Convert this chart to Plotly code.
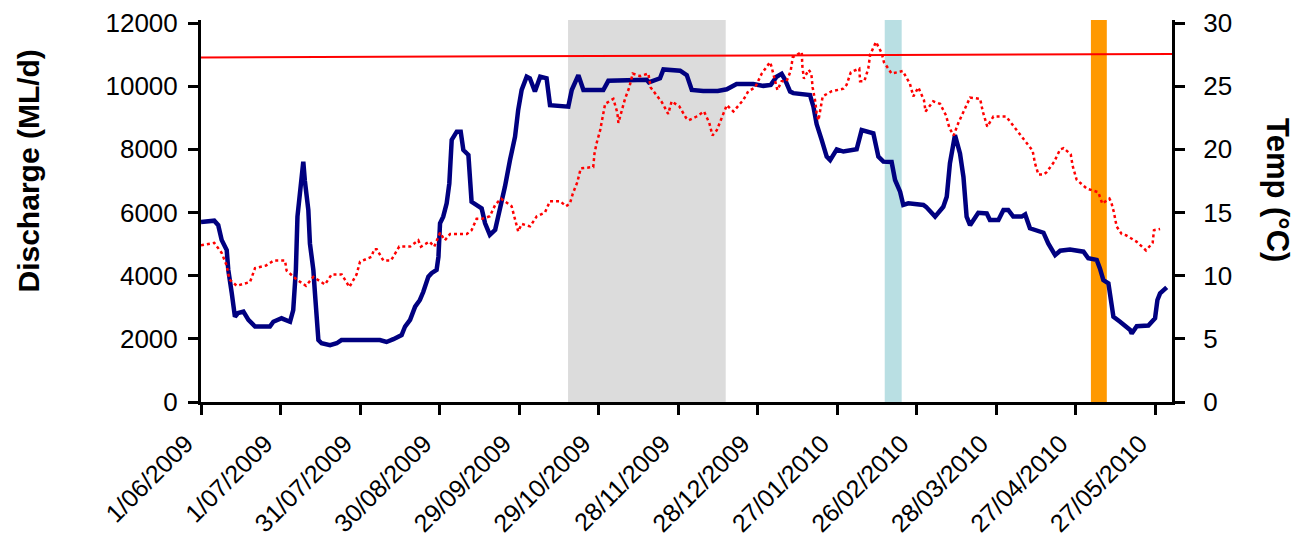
import pandas as pd
import plotly.graph_objects as go

# ---------------- data ----------------
base_date = "2009-06-01"

discharge_day = [0, 5, 6.5, 7.8, 9.7, 10.3, 11.6, 12.8, 14, 16, 17.9, 20.4, 26, 27.3, 30.4, 33.6, 34.8,
                 35.8, 36.4, 37.4, 38.6, 39.2, 40.5, 41.1, 42.4, 43, 43.7, 44.3, 45.5, 48.7, 51.2, 53,
                 67.5, 70, 72.6, 75.7, 77, 78.9, 80.8, 82.6, 83.9, 85.8, 87, 88.9, 89.6, 90.2, 91.4,
                 92.7, 93.7, 94.6, 96.5, 98, 99, 100.9, 102.1, 104, 105.9, 107.2, 109, 111, 112.8,
                 114.7, 116.6, 118.5, 119.7, 121, 122.9, 124.1, 126, 128, 130.4, 131.7, 138.6, 139.9,
                 142.4, 144.3, 151.8, 153.7, 168.2, 169, 173.2, 174.5, 180.8, 183.3, 185.2, 189.5, 195,
                 198.4, 202.1, 208.4, 212.2, 215, 217.2, 219.1, 220.4, 222.3, 223.5, 229.8, 231.1,
                 232.3, 234.2, 236.1, 237.4, 239.9, 242.4, 247.4, 249.3, 253.7, 255.6, 257.5, 260.6,
                 261.9, 263.8, 265, 266.9, 272.6, 273.6, 277, 280.1, 281.4, 282.6, 284.5, 286.4, 287.7,
                 288.9, 290.2, 293.3, 296.5, 297.7, 300.9, 302.8, 304.6, 306.5, 309.7, 311, 312.8,
                 317.9, 319.7, 322.3, 324.2, 327.9, 333, 334.8, 338, 339.2, 340.5, 342.4, 343.3, 344.3,
                 346.8, 350.6, 351.2, 353.1, 357.5, 360, 360.9, 361.9, 364.4]
discharge_mld = [5700, 5740, 5600, 5130, 4810, 4180, 3450, 2700, 2820, 2860, 2600, 2390, 2390, 2540, 2650,
                 2540, 2910, 4180, 5870, 6610, 7610, 7000, 6080, 5020, 4180, 3450, 2600, 1960, 1860, 1800,
                 1860, 1960, 1960, 1900, 1990, 2120, 2390, 2600, 3020, 3230, 3490, 3970, 4080, 4180, 4600,
                 5660, 5870, 6290, 6920, 8300, 8560, 8560, 7980, 7820, 6340, 6240, 6130, 5660, 5290, 5450,
                 6080, 6820, 7660, 8400, 9250, 9880, 10300, 10250, 9830, 10300, 10250, 9400, 9350, 9880,
                 10350, 9880, 9880, 10170, 10200, 10120, 10250, 10530, 10490, 10350, 9880, 9850, 9850,
                 9900, 10070, 10070, 10010, 10040, 10300, 10390, 10200, 9830, 9780, 9720, 9350, 8800,
                 8300, 7770, 7660, 8000, 7930, 8000, 8610, 8510, 7770, 7610, 7600, 7030, 6660, 6240, 6290,
                 6240, 6180, 5870, 6180, 6500, 7560, 8450, 7870, 7130, 5870, 5600, 5990, 5970, 5760, 5760,
                 6080, 6080, 5870, 5870, 5940, 5500, 5360, 5020, 4650, 4790, 4830, 4760, 4550, 4500, 4230,
                 3860, 3760, 3130, 2700, 2540, 2280, 2170, 2400, 2420, 2650, 3230, 3440, 3630]

temp_day = [0, 5, 7.8, 9.7, 10.7, 13.5, 18.5, 20.4, 24.5, 27.5, 31.7, 32.3, 36.1, 39.6, 42.4, 46.8, 49.3,
            53.1, 56, 58.7, 60, 64.4, 65.3, 66.3, 68.8, 71.7, 74.8, 78.9, 82, 83, 86.2, 88, 90.2, 92, 94,
            100.3, 102.1, 104, 106, 109, 111, 113.2, 117.2, 118.5, 119.7, 121, 124.2, 126.7, 129.8, 131.7,
            135.5, 137.7, 139.2, 140.3, 142, 143.3, 148, 148.5, 149.3, 150.6, 151.5, 152.5, 155.6, 157.1,
            157.5, 158.5, 160, 161.6, 162.9, 165.7, 168.8, 169.7, 173.5, 174, 176.3, 177.6, 180.5, 183,
            184, 187, 189.8, 191.8, 193, 194.6, 196.5, 198.4, 200.9, 204.6, 206.5, 209.1, 211.6, 214.7,
            215.2, 217.5, 219.1, 221, 222.5, 223.3, 226.7, 226.9, 227.5, 229.3, 230.3, 230.8, 231.7,
            232.3, 233, 233.8, 234.6, 238, 242.4, 243.6, 245.2, 248.4, 248.7, 250.3, 251.8, 252.5, 254.7,
            256.9, 257.7, 260.6, 264.8, 267.5, 268.8, 270.7, 272.8, 273.4, 276.3, 278.9, 281.1, 282.4,
            284, 285.8, 288, 290.2, 294, 295, 296.7, 299, 303.8, 307.2, 310.1, 313.8, 314.7, 316, 318,
            319.1, 321.9, 324.2, 325.5, 328.2, 328.9, 330.4, 334.2, 338.6, 340.1, 342.8, 343.5, 344.5,
            345.5, 347.4, 349, 352.5, 353, 356.6, 359.1, 359.6, 361.9]
temp_c = [12.4, 12.6, 11.8, 10.8, 9.7, 9.2, 9.5, 10.6, 10.8, 11.2, 11.2, 10.4, 9.7, 9.2, 9.9, 9.3, 10.1,
          10.1, 9.1, 10.1, 11.1, 11.5, 12.1, 12.1, 11.2, 11.2, 12.3, 12.3, 12.8, 12.3, 12.7, 12.3, 13.4,
          12.8, 13.3, 13.3, 13.6, 14.5, 14.5, 14.7, 15.6, 16.1, 15.5, 14.4, 13.5, 14.1, 13.9, 14.7, 15.0,
          15.9, 15.9, 15.5, 15.7, 16.5, 17.4, 18.5, 18.6, 19.7, 20.5, 21.5, 22.6, 23.6, 24.0, 22.9, 22.1,
          22.9, 24.0, 24.9, 26.0, 25.8, 26.0, 24.9, 23.8, 23.7, 22.8, 23.8, 23.4, 22.5, 22.3, 22.6, 23.0,
          22.1, 21.1, 21.5, 22.5, 23.5, 23.0, 23.9, 24.6, 24.9, 26.0, 26.9, 26.6, 24.7, 25.4, 25.4, 26.2,
          27.3, 27.7, 26.6, 25.6, 26.3, 26.0, 24.9, 23.9, 22.9, 22.3, 23.2, 24.2, 24.6, 24.8, 25.1, 26.1,
          26.4, 25.4, 25.4, 26.4, 27.5, 28.5, 27.6, 26.9, 26.0, 26.2, 25.2, 24.2, 24.9, 23.9, 23.0, 23.8,
          23.6, 22.7, 21.7, 21.1, 22.1, 23.1, 24.1, 24.0, 23.0, 21.8, 22.6, 22.6, 21.7, 20.9, 19.9, 18.9,
          18.0, 18.0, 18.2, 19.0, 20.0, 20.1, 19.6, 18.7, 17.6, 16.9, 16.6, 15.7, 16.1, 15.8, 15.0, 13.9,
          13.3, 13.2, 12.8, 12.7, 12.0, 12.6, 13.6, 13.7]

# reference temperature line (start / end)
ref_line_day = [-1, 367]
ref_line_temp = [27.28, 27.55]

# shaded periods (start day, end day)
grey_period = [138.5, 198.0]
blue_period = [258.0, 264.4]
orange_period = [335.8, 341.8]

tick_dates = ["2009-06-01", "2009-07-01", "2009-07-31", "2009-08-30", "2009-09-29", "2009-10-29",
              "2009-11-28", "2009-12-28", "2010-01-27", "2010-02-26", "2010-03-28", "2010-04-27",
              "2010-05-27"]
tick_labels = ["1/06/2009", "1/07/2009", "31/07/2009", "30/08/2009", "29/09/2009", "29/10/2009",
               "28/11/2009", "28/12/2009", "27/01/2010", "26/02/2010", "28/03/2010", "27/04/2010",
               "27/05/2010"]
discharge_ticks = [0, 2000, 4000, 6000, 8000, 10000, 12000]
discharge_tick_labels = ["0", "2000", "4000", "6000", "8000", "10000", "12000"]
temp_ticks = [0, 5, 10, 15, 20, 25, 30]
temp_tick_labels = ["0", "5", "10", "15", "20", "25", "30"]

# ---------------- helpers ----------------
b = pd.Timestamp(base_date)
to_date = lambda days: [b + pd.Timedelta(days=float(d)) for d in days]

x_range = [b, b + pd.Timedelta(days=366.4)]
y_range = [0, 12095]
y2_range = [0, 30.24]

FONT = "Arial, Liberation Sans, sans-serif"

fig = go.Figure()

fig.add_trace(go.Scatter(x=to_date(discharge_day), y=discharge_mld, mode="lines",
                         line=dict(color="#000080", width=4.5), yaxis="y", showlegend=False))
fig.add_trace(go.Scatter(x=to_date(temp_day), y=temp_c, mode="lines",
                         line=dict(color="#FF0000", width=2.5, dash="dot"), yaxis="y2", showlegend=False))
fig.add_trace(go.Scatter(x=to_date(ref_line_day), y=ref_line_temp, mode="lines",
                         line=dict(color="#FF0000", width=2), yaxis="y2", showlegend=False))

for period, col in [(grey_period, "#DCDCDC"), (blue_period, "#B9DFE3"), (orange_period, "#FF9900")]:
    s, e = to_date(period)
    fig.add_shape(type="rect", xref="x", yref="paper", x0=s, x1=e, y0=0, y1=1,
                  fillcolor=col, line=dict(width=0), layer="below")

tick_x = [pd.Timestamp(t) for t in tick_dates]

axis_common = dict(showgrid=False, zeroline=False, linecolor="black", linewidth=3,
                   tickcolor="black", tickwidth=2.5, ticklen=10)

fig.update_layout(
    width=1307, height=546,
    margin=dict(l=201, r=135, t=20, b=144, autoexpand=False),
    paper_bgcolor="white", plot_bgcolor="white",
    xaxis=dict(range=x_range, tickmode="array", tickvals=tick_x,
               ticktext=tick_labels, automargin=False,
               tickangle=-45, ticks="outside", showline=True,
               ticklabelstandoff=4, ticklabelshift=-15,
               tickfont=dict(family=FONT, size=25, color="black"), **axis_common),
    xaxis2=dict(range=x_range, overlaying="x", tickmode="array", tickvals=tick_x, showticklabels=False,
                ticks="inside", showline=False, showgrid=False, zeroline=False,
                tickcolor="black", tickwidth=2.5, ticklen=8, anchor="y"),
    yaxis=dict(range=y_range, tickmode="array", tickvals=discharge_ticks,
               ticktext=discharge_tick_labels, ticks="outside", automargin=False,
               showline=True, ticklabelstandoff=5,
               tickfont=dict(family=FONT, size=26, color="black"), **axis_common),
    yaxis2=dict(range=y2_range, tickmode="array", tickvals=temp_ticks, ticktext=temp_tick_labels,
                ticks="outside", automargin=False,
                showline=True, side="right", overlaying="y", anchor="x", ticklabelstandoff=13,
                tickfont=dict(family=FONT, size=26, color="black"), **axis_common),
    yaxis3=dict(range=y_range, overlaying="y", tickmode="array", tickvals=discharge_ticks,
                showticklabels=False, ticks="inside", showline=False, showgrid=False, zeroline=False,
                tickcolor="black", tickwidth=2.5, ticklen=10, anchor="x"),
    yaxis4=dict(range=y2_range, overlaying="y", side="right", tickmode="array", tickvals=temp_ticks,
                showticklabels=False, ticks="inside", showline=False, showgrid=False, zeroline=False,
                tickcolor="black", tickwidth=2.5, ticklen=10, anchor="x"),
    showlegend=False,
    annotations=[
        dict(text="<b>Discharge (ML/d)</b>", textangle=-90, xref="paper", yref="paper",
             x=(27.5 - 201) / 971, y=(402 - 171) / 382, xanchor="center", yanchor="middle",
             showarrow=False, font=dict(family=FONT, size=30, color="black")),
        dict(text="<b>Temp (°C)</b>", textangle=90, xref="paper", yref="paper",
             x=(1278 - 201) / 971, y=(402 - 190) / 382, xanchor="center", yanchor="middle",
             showarrow=False, font=dict(family=FONT, size=31, color="black")),
    ],
)

fig.write_html("out.html", post_script="document.body.style.margin='0px';",
               config={"displayModeBar": False})
